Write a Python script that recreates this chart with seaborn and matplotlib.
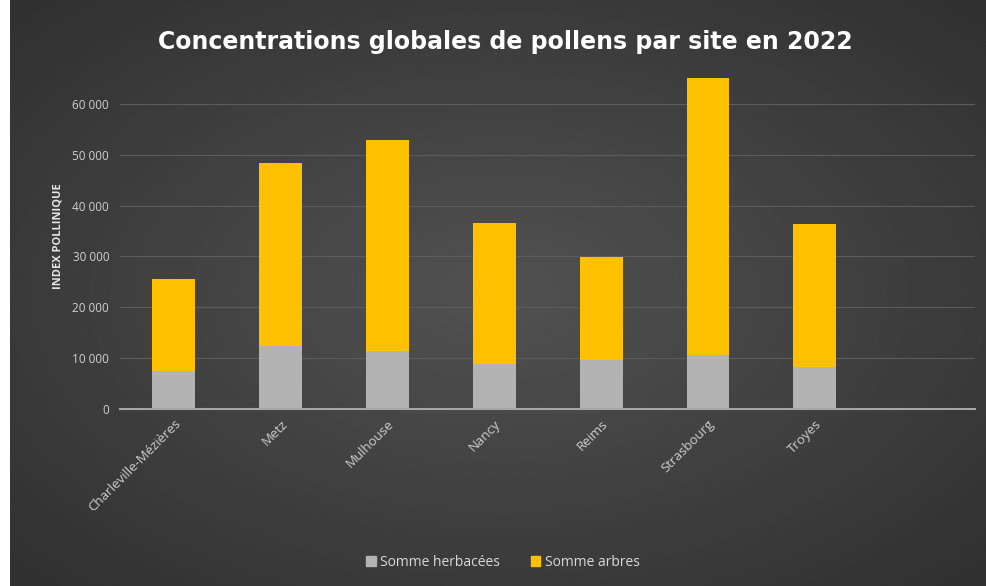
import matplotlib
matplotlib.use("Agg")
import matplotlib.pyplot as plt
import matplotlib.ticker as mticker
from matplotlib.patches import Patch
import seaborn as sns
import numpy as np
import pandas as pd

# data
sites = ["Charleville-Mézières", "Metz", "Mulhouse", "Nancy", "Reims", "Strasbourg", "Troyes"]
herbacees = [7500, 12400, 11400, 8900, 9600, 10600, 8300]
arbres = [18000, 36000, 41500, 27700, 20300, 54500, 28100]
yticks = [0, 10000, 20000, 30000, 40000, 50000, 60000]

df = pd.DataFrame({"site": sites, "herb": herbacees, "arbres": arbres})
df["total"] = df["herb"] + df["arbres"]

sns.set_style("dark")
plt.rcParams["font.family"] = ["Open Sans", "DejaVu Sans"]

fig = plt.figure(figsize=(9.86, 5.86), dpi=100, facecolor="white")

# dark radial background
bg = fig.add_axes([0.01, 0.0, 0.99, 1.0])
gy, gx = np.mgrid[-1:1:300j, -1:1:500j]
r = np.sqrt(gx ** 2 + gy ** 2)
bg.imshow(0.32 - 0.13 * np.clip(r, 0, 1.4) / 1.4, cmap="gray", vmin=0, vmax=1,
          aspect="auto", extent=[0, 1, 0, 1])
bg.set_axis_off()

ax = fig.add_axes([0.122, 0.302, 0.867, 0.59])
ax.set_facecolor("none")

sns.barplot(data=df, x="site", y="total", color="#ffc000", width=0.4,
            saturation=1, linewidth=0, ax=ax)
sns.barplot(data=df, x="site", y="herb", color="#b3b3b3", width=0.4,
            saturation=1, linewidth=0, ax=ax)

ax.set_xlim(-0.5, 7.5)
ax.set_ylim(0, 68000)
ax.set_yticks(yticks)
ax.yaxis.set_major_formatter(mticker.FuncFormatter(lambda v, p: f"{int(v):,}".replace(",", " ")))
ax.grid(axis="y", color="#5c5c5c", linewidth=0.8)
ax.grid(axis="x", visible=False)
ax.set_axisbelow(True)
for s in ["top", "right", "left"]:
    ax.spines[s].set_visible(False)
ax.spines["bottom"].set_color("#a6a6a6")
ax.spines["bottom"].set_linewidth(1.5)

ax.tick_params(axis="y", colors="#cfcfcf", labelsize=8.5, length=0, pad=8)
ax.tick_params(axis="x", colors="#cfcfcf", labelsize=9.5, length=0, pad=6)
plt.setp(ax.get_xticklabels(), rotation=45, ha="right", rotation_mode="anchor")

ax.set_xlabel("")
ax.set_ylabel("INDEX POLLINIQUE", color="#e6e6e6", fontsize=8, fontweight="bold", labelpad=6)

fig.text(0.512, 0.928, "Concentrations globales de pollens par site en 2022",
         ha="center", va="center", color="white", fontsize=17, fontweight="bold",
         family="DejaVu Sans")

handles = [Patch(color="#b3b3b3", label="Somme herbacées"),
           Patch(color="#ffc000", label="Somme arbres")]
fig.legend(handles=handles, loc="center", bbox_to_anchor=(0.51, 0.04), ncol=2,
           frameon=False, fontsize=10, labelcolor="#d9d9d9",
           handlelength=0.7, handleheight=0.7, handletextpad=0.3, columnspacing=2.2)

fig.savefig("out.png", dpi=100, facecolor=fig.get_facecolor())
